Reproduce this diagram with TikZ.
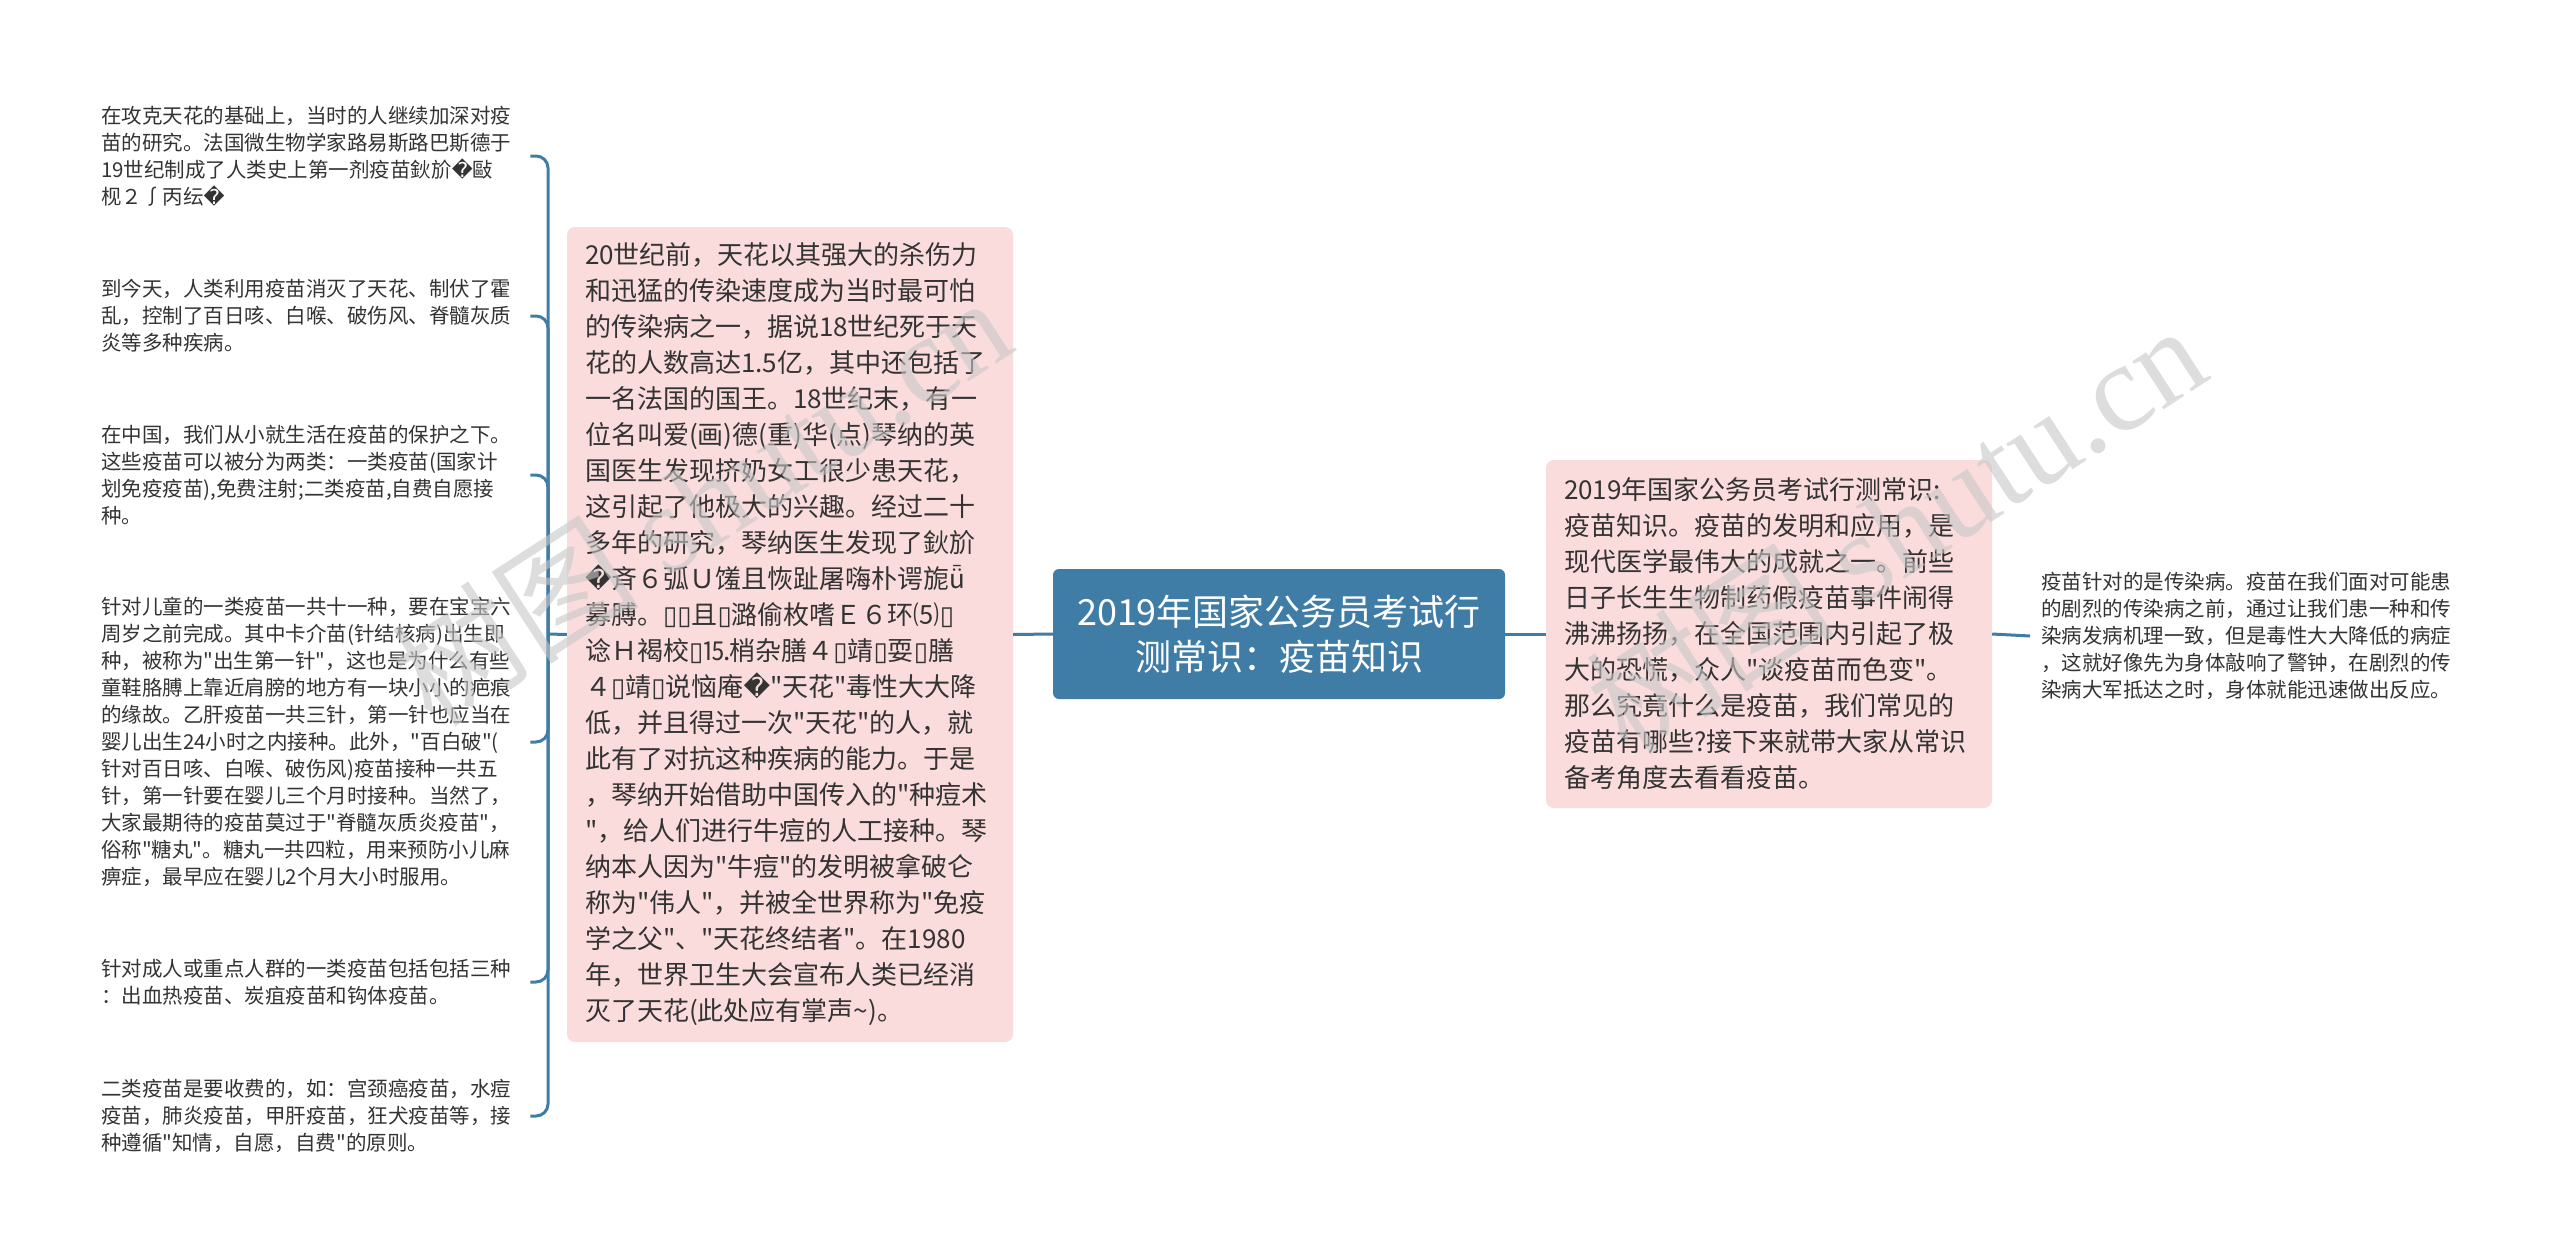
\documentclass[tikz,border=0pt]{standalone}
\usepackage{fontspec}
\setmainfont{Noto Sans CJK SC}[Ligatures=TeXOff]
\newfontfamily\dvs{DejaVu Sans}
\newfontfamily\wmserif{Liberation Serif}
\usepackage{xcolor}
\definecolor{mapblue}{HTML}{3F7DA6}
\definecolor{mappink}{HTML}{FADCDC}
\definecolor{maptext}{HTML}{333333}
\newcommand{\qm}{{\dvs\char"FFFD}}
\newcommand{\tofu}{{\dvs\char"25AF}}

\tikzset{
  topic/.style={fill=mapblue, rounded corners=6pt, text=white, align=center,
    font=\fontsize{36}{45}\selectfont, minimum width=452pt, minimum height=130pt, inner sep=0pt},
  pinkbox/.style={fill=mappink, rounded corners=8pt, text=maptext, align=left,
    font=\fontsize{26}{36}\selectfont, text width=410pt, inner xsep=18pt, inner ysep=0pt},
  leaf/.style={text=maptext, align=left, font=\fontsize{20.5}{27}\selectfont,
    text width=420pt, inner sep=0pt, anchor=west},
  link/.style={draw=mapblue, line width=3pt, rounded corners=12pt},
  wmark/.style={text=black!22, opacity=0.6, inner sep=0pt, font=\fontsize{125}{125}\selectfont}
}

\begin{document}
\begin{tikzpicture}[x=1pt,y=-1pt]
	\useasboundingbox[fill=white] (0,0) rectangle (2560,1256);
	
	\node[topic] (topic) at (1279,634) {2019年国家公务员考试行\\测常识：疫苗知识};
	
	\node[pinkbox, minimum height=815pt] (hist) at (790,634.5) {20世纪前，天花以其强大的杀伤力\\
和迅猛的传染速度成为当时最可怕\\
的传染病之一，据说18世纪死于天\\
花的人数高达1.5亿，其中还包括了\\
一名法国的国王。18世纪末，有一\\
位名叫爱(画)德(重)华(点)琴纳的英\\
国医生发现挤奶女工很少患天花，\\
这引起了他极大的兴趣。经过二十\\
多年的研究，琴纳医生发现了鈥斺\\
\qm 斉６弧Ｕ馐且恢趾屠嗨朴谔旎ǖ\\
募膊。\tofu\tofu 且\tofu 潞偷枚嗜Ｅ６环⑸\tofu\\
谂Ｈ褐校\tofu ⒖梢杂膳４\tofu 靖\tofu 耍\tofu 膳\\
４\tofu 靖\tofu 说恼庵\qm"天花"毒性大大降\\
低，并且得过一次"天花"的人，就\\
此有了对抗这种疾病的能力。于是\\
，琴纳开始借助中国传入的"种痘术\\
"，给人们进行牛痘的人工接种。琴\\
纳本人因为"牛痘"的发明被拿破仑\\
称为"伟人"，并被全世界称为"免疫\\
学之父"、"天花终结者"。在1980\\
年，世界卫生大会宣布人类已经消\\
灭了天花(此处应有掌声\textasciitilde)。};
	
	\node[pinkbox, minimum height=348pt] (intro) at (1769,634) {2019年国家公务员考试行测常识:\\
疫苗知识。疫苗的发明和应用，是\\
现代医学最伟大的成就之一。前些\\
日子长生生物制药假疫苗事件闹得\\
沸沸扬扬，在全国范围内引起了极\\
大的恐慌，众人"谈疫苗而色变"。\\
那么究竟什么是疫苗，我们常见的\\
疫苗有哪些?接下来就带大家从常识\\
备考角度去看看疫苗。};
	
	\node[leaf] (l1) at (101,156) {在攻克天花的基础上，当时的人继续加深对疫\\
苗的研究。法国微生物学家路易斯路巴斯德于\\
19世纪制成了人类史上第一剂疫苗鈥斺\qm 敺\\
枧２∫丙纭\qm};
	\node[leaf] (l2) at (101,316) {到今天，人类利用疫苗消灭了天花、制伏了霍\\
乱，控制了百日咳、白喉、破伤风、脊髓灰质\\
炎等多种疾病。};
	\node[leaf] (l3) at (101,475) {在中国，我们从小就生活在疫苗的保护之下。\\
这些疫苗可以被分为两类：一类疫苗(国家计\\
划免疫疫苗),免费注射;二类疫苗,自费自愿接\\
种。};
	\node[leaf] (l4) at (101,742) {针对儿童的一类疫苗一共十一种，要在宝宝六\\
周岁之前完成。其中卡介苗(针结核病)出生即\\
种，被称为"出生第一针"，这也是为什么有些\\
童鞋胳膊上靠近肩膀的地方有一块小小的疤痕\\
的缘故。乙肝疫苗一共三针，第一针也应当在\\
婴儿出生24小时之内接种。此外，"百白破"(\\
针对百日咳、白喉、破伤风)疫苗接种一共五\\
针，第一针要在婴儿三个月时接种。当然了，\\
大家最期待的疫苗莫过于"脊髓灰质炎疫苗"，\\
俗称"糖丸"。糖丸一共四粒，用来预防小儿麻\\
痹症，最早应在婴儿2个月大小时服用。};
	\node[leaf] (l5) at (101,982) {针对成人或重点人群的一类疫苗包括包括三种\\
：出血热疫苗、炭疽疫苗和钩体疫苗。};
	\node[leaf] (l6) at (101,1116) {二类疫苗是要收费的，如：宫颈癌疫苗，水痘\\
疫苗，肺炎疫苗，甲肝疫苗，狂犬疫苗等，接\\
种遵循"知情，自愿，自费"的原则。};
	
	\node[leaf] (r1) at (2041,636) {疫苗针对的是传染病。疫苗在我们面对可能患\\
的剧烈的传染病之前，通过让我们患一种和传\\
染病发病机理一致，但是毒性大大降低的病症\\
，这就好像先为身体敲响了警钟，在剧烈的传\\
染病大军抵达之时，身体就能迅速做出反应。};
	
	\coordinate (jl) at (548,634);
	\draw[link] (topic.west) -- (hist.east);
	\draw[link] (hist.west) -- (jl);
	\foreach \leaf in {l1,l2,l3,l4,l5,l6}{
		\draw[link] (jl) |- ([xshift=9pt]\leaf.east);
	}
	\draw[link] (topic.east) -- (intro.west);
	\draw[link] (intro.east) -- ([xshift=-11pt]r1.west);
	
	\node[wmark, rotate=33] (wm1) at (700,500) {树图 {\wmserif shutu.cn}};
	\node[wmark, rotate=33] (wm2) at (1895,528) {树图 {\wmserif shutu.cn}};
\end{tikzpicture}
\end{document}
